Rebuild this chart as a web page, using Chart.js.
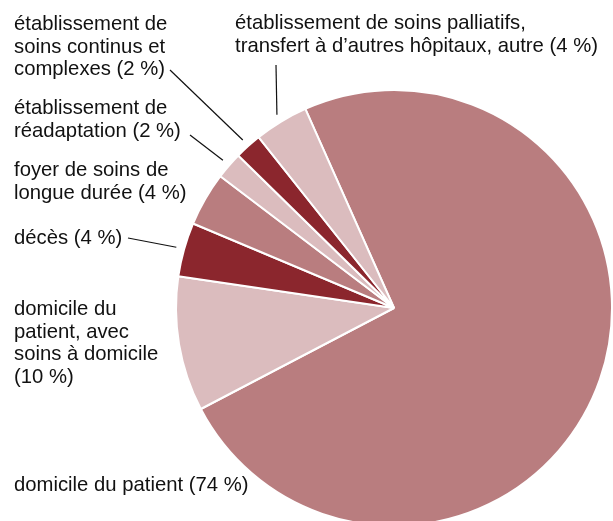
<!DOCTYPE html>
<html>
<head>
<meta charset="utf-8">
<script src="https://cdn.jsdelivr.net/npm/chart.js@4"></script>
<style>
  html, body { margin: 0; padding: 0; overflow: hidden; background: #fff; }
  #wrap { position: absolute; left: 0; top: 0; width: 613px; height: 527px; }
</style>
</head>
<body>
<div id="wrap"><canvas id="pieChart"></canvas></div>
<script>
// Data (clockwise from the top-left edge of the largest slice)
const categories = [
  'domicile du patient',
  'domicile du patient, avec soins à domicile',
  'décès',
  'foyer de soins de longue durée',
  'établissement de réadaptation',
  'établissement de soins continus et complexes',
  'établissement de soins palliatifs, transfert à d’autres hôpitaux, autre'
];
const shares = [74, 10, 4, 4, 2, 2, 4];
const sliceColors = ['#b97d7f', '#dbbcbe', '#8b262d', '#b97d7f', '#dbbcbe', '#8b262d', '#dbbcbe'];

// Label text lines, one entry per slice
const labelLines = [
  ['domicile du patient (74 %)'],
  ['domicile du', 'patient, avec', 'soins à domicile', '(10 %)'],
  ['décès (4 %)'],
  ['foyer de soins de', 'longue durée (4 %)'],
  ['établissement de', 'réadaptation (2 %)'],
  ['établissement de', 'soins continus et', 'complexes (2 %)'],
  ['établissement de soins palliatifs,', 'transfert à d’autres hôpitaux, autre (4 %)']
];

// Layout: where each label sits, and where its leader line starts (null = no line)
const labelPos = [
  { x: 14, y: 491 },
  { x: 14, y: 315 },
  { x: 14, y: 244 },
  { x: 14, y: 176 },
  { x: 14, y: 114 },
  { x: 14, y: 30 },
  { x: 235, y: 29 }
];
const leaderStart = [null, null, [128, 238], null, [190, 135], [170, 70], [276, 65]];

const labelPlugin = {
  id: 'pieLabels',
  afterDraw(chart) {
    const ctx = chart.ctx;
    const arcs = chart.getDatasetMeta(0).data;
    ctx.save();
    ctx.font = '20.3px "Liberation Sans", Arial, sans-serif';
    ctx.fillStyle = '#111111';
    ctx.textBaseline = 'alphabetic';
    labelLines.forEach((lines, i) => {
      lines.forEach((t, j) => ctx.fillText(t, labelPos[i].x, labelPos[i].y + j * 22.5));
    });
    ctx.strokeStyle = '#111111';
    ctx.lineWidth = 1.2;
    arcs.forEach((arc, i) => {
      if (!leaderStart[i]) return;
      const p = arc.getProps(['x', 'y', 'startAngle', 'endAngle', 'outerRadius'], true);
      const mid = (p.startAngle + p.endAngle) / 2;
      const r = p.outerRadius + 8;
      ctx.beginPath();
      ctx.moveTo(leaderStart[i][0], leaderStart[i][1]);
      ctx.lineTo(p.x + Math.cos(mid) * r, p.y + Math.sin(mid) * r);
      ctx.stroke();
    });
    ctx.restore();
  }
};

const ctx = document.getElementById('pieChart').getContext('2d');
const pieChart = new Chart(ctx, {
  type: 'pie',
  data: {
    labels: categories,
    datasets: [{
      data: shares,
      backgroundColor: sliceColors,
      borderColor: '#ffffff',
      borderWidth: 2
    }]
  },
  options: {
    responsive: true,
    maintainAspectRatio: false,
    animation: false,
    rotation: -24,
    layout: { padding: { left: 175, right: 0, top: 89, bottom: 0 } },
    plugins: {
      legend: { display: false },
      tooltip: { enabled: false }
    }
  },
  plugins: [labelPlugin]
});
</script>
</body>
</html>
